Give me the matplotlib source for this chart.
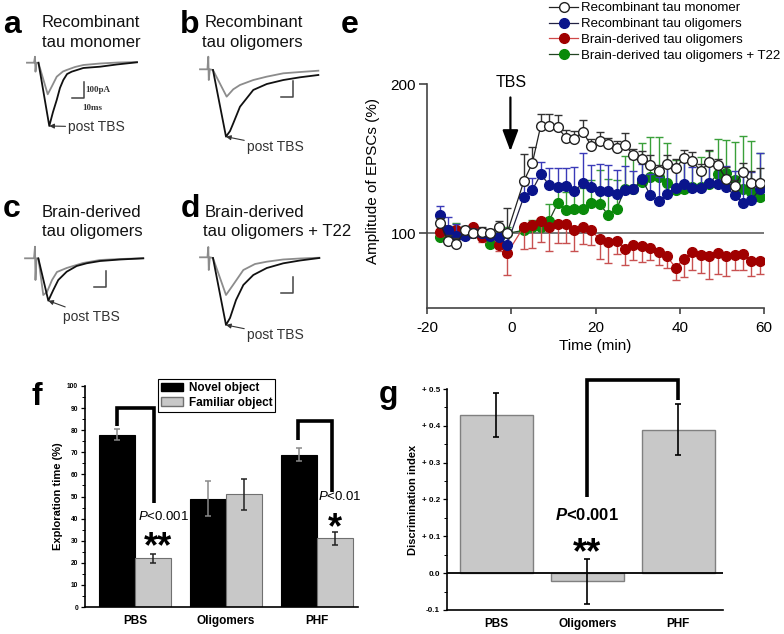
import numpy as np
import matplotlib
matplotlib.use('Agg')
import matplotlib.pyplot as plt
from matplotlib.patches import Patch
from matplotlib.ticker import MultipleLocator

plt.rcParams['font.family'] = ['Liberation Sans', 'DejaVu Sans']
plt.rcParams['axes.unicode_minus'] = False
plt.rcParams['mathtext.fontset'] = 'custom'
plt.rcParams['mathtext.rm'] = 'Liberation Sans'
plt.rcParams['mathtext.it'] = 'Liberation Sans:italic'
plt.rcParams['mathtext.bf'] = 'Liberation Sans:bold'
plt.rcParams['mathtext.bfit'] = 'Liberation Sans:italic:bold'

# ---------------- data: EPSC traces (ms, pA) ----------------
a_pre_t = [-6.7, -0.8, 0, 0.4, 1.25, 2.9, 10.6, 14.2, 18.1, 23.3, 26.4, 33.3, 40.3, 54.2, 69.2, 85]
a_pre_i = [0, 0, 37.5, -56, 0, -2, -197.5, -145.6, -87.5, -55, -45.6, -26.9, -14.4, -5, 1.2, 4]
a_post_t = [2.9, 11.9, 15, 18.1, 20.8, 23.6, 26.7, 30.6, 40.3, 54.2, 68.3, 85]
a_post_i = [0, -395.6, -308, -233, -158, -108, -71, -56, -33, -25, -11, 2.5]

b_pre_t = [-6.9, -0.7, 0, 0.4, 1.25, 3.9, 15.3, 20.8, 26.4, 37.5, 48.7, 62.5, 76.4, 91.7]
b_pre_i = [0, 0, 78.8, -66.9, 0, -4.4, -171, -125, -98, -67, -46, -25, -17, -8.8]
b_post_t = [3.9, 14.75, 18.1, 20.8, 26.4, 37.5, 48.7, 62.5, 76.4, 91.7]
b_post_i = [-4.4, -421, -386, -337.5, -234, -129, -92, -67, -50, -35.6]

c_pre_t = [-8.3, -0.8, 0, 0.4, 1.25, 2.9, 6.9, 10, 14.2, 18.3, 26.4, 40, 54.2, 70.8, 90]
c_pre_i = [0, 0, 72.5, -135.6, 0, -4.4, -229.4, -210.6, -135.6, -85.6, -60.6, -29.4, -10.6, -4.4, 0]
c_post_t = [2.75, 11.1, 15.25, 19.4, 26.4, 34.75, 43.1, 54.2, 70.8, 90.25]
c_post_i = [0, -265, -198, -135.6, -83.75, -48, -31, -17, -7.5, 0]

d_pre_t = [-6.9, -0.7, 0, 0.4, 1.25, 3.9, 14.75, 20.6, 29.2, 38.9, 48.7, 62.25, 76.4, 92.5]
d_pre_i = [0, 0, 64.4, -79.4, 0, -4.4, -235.6, -173, -79.4, -42, -27.5, -13.75, -7.5, -2.5]
d_post_t = [3.9, 14.75, 18.1, 23.1, 29.2, 37.5, 48.7, 62.5, 76.4, 92.5]
d_post_i = [-4.4, -423, -379, -267, -173, -110.6, -67, -37.5, -20, -4.4]

scale_ms = 10
scale_pa = 100

# ---------------- data: panel e ----------------
time_min = [-17, -15, -13, -11, -9, -7, -5, -3, -1,
            3, 5, 7, 9, 11, 13, 15, 17, 19, 21, 23, 25, 27, 29, 31, 33, 35, 37, 39,
            41, 43, 45, 47, 49, 51, 53, 55, 57, 59]
monomer = [107, 95, 93, 102, 100, 101, 100, 104, 100,
           135, 147, 172, 172, 171, 164, 163.5, 168, 158.5, 162, 160, 157, 159, 152.5, 150,
           145.5, 142, 146.5, 143.5, 150.5, 148.5, 141.5, 148, 145.5, 136.5, 132, 141, 133.5, 133.5]
monomer_err = [3, 4, 4, 3, 3, 3, 3, 4, 17,
               18, 11, 8, 8, 8, 5, 5, 8, 5, 6, 4, 5, 8, 4, 5, 7, 4, 6, 6, 5, 6, 5, 8, 4, 8,
               4, 6, 8, 10]
rec_olig = [112.5, 102.5, 98.5, 98.5, 100, 100, 98.5, 97.5, 92.5,
            124.5, 129, 139.5, 132.5, 131, 132, 128.5, 133.5, 131, 128.5, 128.5, 126.5, 129,
            129.5, 136.5, 125.5, 121.5, 126.5, 130.5, 133, 130.5, 130.5, 133.5, 133, 131,
            125.5, 120.5, 122, 130]
rec_olig_err = [5.5, 8.5, 8, 3, 3, 3, 3, 4, 10,
                8, 8, 8, 11, 13, 12, 16, 20, 15, 18, 17, 16, 16, 12, 10, 14, 16, 18, 14, 16,
                14, 12, 12, 13, 14, 16, 18, 19, 24]
brain_olig = [101, 102, 102, 99, 104.5, 97.5, 99, 92.5, 86.5,
              104.5, 105.5, 108.5, 104, 106.5, 106.5, 102.5, 104, 102, 96, 94, 95, 89.5, 92,
              91.5, 90.5, 87.5, 84.5, 77, 83, 87.5, 85.5, 84.5, 86.5, 84.5, 85.5, 86, 81.5, 81.5]
brain_olig_err = [3, 3, 3, 3, 3, 3, 3, 4, 14.5,
                  15, 15, 14, 16, 13, 13, 14, 11, 10, 13, 14, 9, 10.5, 10, 11, 8.5, 9, 7.5,
                  8.5, 12, 12, 12, 15, 13.5, 13, 10, 10.5, 10, 8.5]
brain_t22 = [97.5, 101, 102, 100, 100, 99, 93, 97.5, 100,
             102, 104, 104, 108.5, 120, 115.5, 116, 116.5, 120.5, 119.5, 112.5, 116, 130, 130,
             134.5, 137.5, 137.5, 133.5, 129, 130, 131, 131, 133, 140, 140.5, 136, 130, 128, 124.5]
brain_t22_err = [3, 4, 5, 3, 3, 3, 3, 3, 4,
                 4, 5, 5, 11, 12, 12, 12, 14, 15, 23, 24, 20, 22, 20, 26, 27, 27, 27, 20, 20,
                 18, 20, 22, 23, 22, 25, 35, 34, 29]
series_labels = ['Recombinant tau monomer', 'Recombinant tau oligomers',
                 'Brain-derived tau oligomers', 'Brain-derived tau oligomers + T22']

# ---------------- data: panels f, g ----------------
groups = ['PBS', 'Oligomers', 'PHF']
novel = [78, 49, 69]
novel_err = [2.5, 8, 3]
familiar = [22, 51, 31]
familiar_err = [2, 7, 3]
disc = [0.43, -0.022, 0.39]
disc_err = [0.06, 0.061, 0.07]
g_ticks = [-0.1, 0.0, 0.1, 0.2, 0.3, 0.4, 0.5]
g_ticklabels = ['-0.1', '0.0', '+ 0.1', '+ 0.2', '+ 0.3', '+ 0.4', '+ 0.5']

# ---------------- figure ----------------
W, H = 784, 634
fig = plt.figure(figsize=(W / 100, H / 100), dpi=100)


def box(x0, y0, x1, y1):
    return [x0 / W, 1 - y1 / H, (x1 - x0) / W, (y1 - y0) / H]


def ftext(x, y, s, **kw):
    fig.text(x / W, 1 - y / H, s, **kw)


PX_MS = 1.2
PX_PA = 0.16


def trace_panel(xo, yo, pre_t, pre_i, post_t, post_i, bar_t, bar_i, off, labels=False):
    ax = fig.add_axes(box(xo - 15, yo - 20, xo + 125, yo + 85))
    ax.set_xlim(-15 / PX_MS, 125 / PX_MS)
    ax.set_ylim(-85 / PX_PA, 20 / PX_PA)
    ax.axis('off')
    ax.plot(pre_t, pre_i, color='#8c8c8c', lw=1.3, zorder=2)
    ax.plot(post_t, post_i, color='#111111', lw=1.3, zorder=3)
    ax.plot([bar_t - scale_ms, bar_t, bar_t], [bar_i, bar_i, bar_i + scale_pa],
            color='#444444', lw=1.1)
    k = int(np.argmin(post_i))
    ax.annotate('post TBS', xy=(post_t[k], post_i[k]), xytext=off, textcoords='offset pixels',
                ha='left', va='center', fontsize=10, color='#333333',
                arrowprops=dict(arrowstyle='-|>', color='#333333', lw=0.8,
                                mutation_scale=7, shrinkA=0, shrinkB=0))
    if labels:
        ax.annotate('100pA', xy=(bar_t, bar_i + scale_pa / 2), xytext=(2, 0),
                    textcoords='offset pixels', ha='left', va='center', fontsize=6.5,
                    fontweight='bold', family='Liberation Serif', color='#333333')
        ax.annotate('10ms', xy=(bar_t, bar_i), xytext=(-1, -10),
                    textcoords='offset pixels', ha='left', va='center', fontsize=6.5,
                    fontweight='bold', family='Liberation Serif', color='#333333')
    return ax


trace_panel(35, 62.7, a_pre_t, a_pre_i, a_post_t, a_post_i, 40.6, -218.75, (19, -1), labels=True)
trace_panel(208.3, 69.3, b_pre_t, b_pre_i, b_post_t, b_post_i, 70.8, -171, (21, -10))
trace_panel(35, 258.3, c_pre_t, c_pre_i, c_post_t, c_post_i, 59.2, -181, (15, -16))
trace_panel(208.3, 257.3, d_pre_t, d_pre_i, d_post_t, d_post_i, 70.8, -225, (21, -10))

# titles
tkw = dict(fontsize=12, ha='left', va='baseline', color='#111111')
ftext(42, 27, 'Recombinant', **tkw)
ftext(42, 47, 'tau monomer', **tkw)
ftext(205, 27, 'Recombinant', **tkw)
ftext(202, 47, 'tau oligomers', **tkw)
ftext(42, 217, 'Brain-derived', **tkw)
ftext(42, 236, 'tau oligomers', **tkw)
ftext(205, 217, 'Brain-derived', **tkw)
ftext(203, 236, 'tau oligomers + T22', **tkw)

lkw = dict(fontsize=23, fontweight='bold', ha='center', va='baseline')
ftext(12, 33, 'a', **lkw)
ftext(190, 33, 'b', **lkw)
ftext(12, 217, 'c', **lkw)
ftext(190, 217, 'd', **lkw)
ftext(350, 33, 'e', **lkw)
ftext(37, 405, 'f', **lkw)
ftext(388, 403, 'g', **lkw)

# ---------------- panel e ----------------
axe = fig.add_axes(box(427, 84, 764, 308))
axe.set_xlim(-20, 60)
axe.set_ylim(50, 200)
for s in ['top', 'right']:
    axe.spines[s].set_visible(False)
for s in ['left', 'bottom']:
    axe.spines[s].set_color('#444444')
    axe.spines[s].set_linewidth(1.2)
axe.set_yticks([100, 200])
axe.set_xticks([-20, 0, 20, 40, 60])
axe.tick_params(axis='both', direction='out', width=1.2, color='#444444', labelsize=11)
axe.tick_params(axis='y', length=6, pad=2)
axe.tick_params(axis='x', length=4, pad=5)
axe.axhline(100, color='#777777', lw=1.4, zorder=1)

t = np.array(time_min)
specs = [
    (monomer, monomer_err, 'up', 'white', '#222222', '#222222', '#333333', 6),
    (rec_olig, rec_olig_err, 'up', '#0a148c', '#0a148c', '#222244', '#3a3ab8', 5),
    (brain_olig, brain_olig_err, 'down', '#a00000', '#a00000', '#d04848', '#c85050', 4),
    (brain_t22, brain_t22_err, 'up', '#0a8a0a', '#0a8a0a', '#224422', '#3aa03a', 3),
]
handles = []
for vals, err, side, fc, ec, lc, errc, z in specs:
    v = np.array(vals, dtype=float)
    e = np.array(err, dtype=float)
    zero = np.zeros_like(e)
    yerr = [zero, e] if side == 'up' else [e, zero]
    axe.errorbar(t, v, yerr=yerr, fmt='none', ecolor=errc, elinewidth=1.0, capsize=3,
                 capthick=1.0, zorder=z)
    ln, = axe.plot(t, v, '-', color=lc, lw=0.9, marker='o', ms=7, mfc=fc, mec=ec,
                   mew=1.0, zorder=z + 0.5)
    handles.append(ln)
axe.legend(handles, series_labels, loc='upper left', bbox_to_anchor=(549 / W, 1 - 2 / H),
           bbox_transform=fig.transFigure, frameon=False, fontsize=9.5, handlelength=2.2,
           handletextpad=0.25, labelspacing=0.28, borderpad=0, borderaxespad=0)
axe.text(0, 201, 'TBS', ha='center', va='center', fontsize=11.5)
axe.annotate('', xy=(-0.2, 155), xytext=(-0.2, 191),
             arrowprops=dict(arrowstyle='-|>,head_width=0.3,head_length=0.8', lw=1.6,
                             color='k', mutation_scale=16, shrinkA=0, shrinkB=0))
axe.set_ylabel('Amplitude of EPSCs (%)', fontsize=11)
axe.yaxis.set_label_coords(-0.14, 0.567)
axe.set_xlabel('Time (min)', fontsize=11, labelpad=3)

# ---------------- panel f ----------------
axf = fig.add_axes(box(85, 386, 358, 607))
x = np.arange(len(groups))
bw = 0.4
axf.bar(x - bw / 2, novel, bw, color='black', edgecolor='black', lw=0.8, zorder=2)
axf.bar(x + bw / 2, familiar, bw, color='#c8c8c8', edgecolor='#707070', lw=0.8, zorder=2)
axf.errorbar(x - bw / 2, novel, yerr=novel_err, fmt='none', ecolor='#8a8a8a', capsize=2.5,
             elinewidth=1.1, capthick=1.1, zorder=3)
axf.errorbar(x + bw / 2, familiar, yerr=familiar_err, fmt='none', ecolor='#222222',
             capsize=2.5, elinewidth=1.1, capthick=1.1, zorder=3)
axf.set_xlim(-0.55, 2.45)
axf.set_ylim(0, 100)
for s in ['top', 'right']:
    axf.spines[s].set_visible(False)
for s in ['left', 'bottom']:
    axf.spines[s].set_linewidth(1.2)
axf.yaxis.set_major_locator(MultipleLocator(10))
axf.yaxis.set_minor_locator(MultipleLocator(5))
axf.tick_params(axis='y', which='major', length=3, width=0.9, labelsize=4.8, pad=2)
axf.tick_params(axis='y', which='minor', length=2, width=0.7)
for lb in axf.get_yticklabels():
    lb.set_fontweight('bold')
axf.set_xticks(x, groups, fontsize=8.5, fontweight='bold')
axf.tick_params(axis='x', length=0, pad=6)
axf.set_ylabel('Exploration time (%)', fontsize=8, fontweight='bold', labelpad=3)
axf.legend([Patch(facecolor='black', edgecolor='black'),
            Patch(facecolor='#c8c8c8', edgecolor='#707070')],
           ['Novel object', 'Familiar object'], loc='upper left',
           bbox_to_anchor=(158 / W, 1 - 379 / H), bbox_transform=fig.transFigure,
           prop={'weight': 'bold', 'size': 8.5}, frameon=True, fancybox=False,
           edgecolor='black', framealpha=1, borderpad=0.25, handlelength=1.9,
           handleheight=0.75, labelspacing=0.25, handletextpad=0.45, borderaxespad=0)
axf.get_legend().get_frame().set_linewidth(0.8)
bkw = dict(color='black', lw=2.6, clip_on=False, solid_joinstyle='miter', solid_capstyle='butt')
axf.plot([-0.2, -0.2, 0.21, 0.21], [82, 90, 90, 47], **bkw)
axf.plot([1.79, 1.79, 2.165, 2.165], [75.5, 84, 84, 52], **bkw)
axf.text(0.31, 41, r'$\mathit{P}$<0.001', ha='center', va='center', fontsize=9.5)
axf.text(0.25, 22.5, '**', ha='center', va='baseline', fontsize=26, fontweight='bold')
axf.text(2.25, 50, r'$\mathit{P}$<0.01', ha='center', va='center', fontsize=9.5)
axf.text(2.2, 31, '*', ha='center', va='baseline', fontsize=26, fontweight='bold')

# ---------------- panel g ----------------
axg = fig.add_axes(box(447, 389, 723, 610))
axg.bar(x, disc, 0.8, color='#c8c8c8', edgecolor='#808080', lw=1.0, zorder=2)
axg.errorbar(x, disc, yerr=disc_err, fmt='none', ecolor='black', capsize=2.5,
             elinewidth=1.2, capthick=1.2, zorder=3)
axg.axhline(0, color='black', lw=1.3, zorder=4)
axg.set_xlim(-0.54, 2.49)
axg.set_ylim(-0.1, 0.5)
for s in ['top', 'right']:
    axg.spines[s].set_visible(False)
for s in ['left', 'bottom']:
    axg.spines[s].set_linewidth(1.2)
axg.set_yticks(g_ticks, g_ticklabels, fontsize=5.8, fontweight='bold')
axg.yaxis.set_minor_locator(MultipleLocator(0.05))
axg.tick_params(axis='y', which='major', length=3, width=0.9, pad=2)
axg.tick_params(axis='y', which='minor', length=2, width=0.7)
axg.set_xticks(x, groups, fontsize=8.5, fontweight='bold')
axg.tick_params(axis='x', length=0, pad=6)
axg.set_ylabel('Discrimination index', fontsize=8, fontweight='bold', labelpad=3)
axg.plot([1, 1, 2, 2], [0.207, 0.525, 0.525, 0.47], **bkw)
axg.text(1.0, 0.158, r'$\mathbfit{P}$<0.001', ha='center', va='center', fontsize=12,
         fontweight='bold')
axg.text(1.0, 0.027, '**', ha='center', va='baseline', fontsize=26, fontweight='bold')

fig.savefig('out.png', dpi=100)
